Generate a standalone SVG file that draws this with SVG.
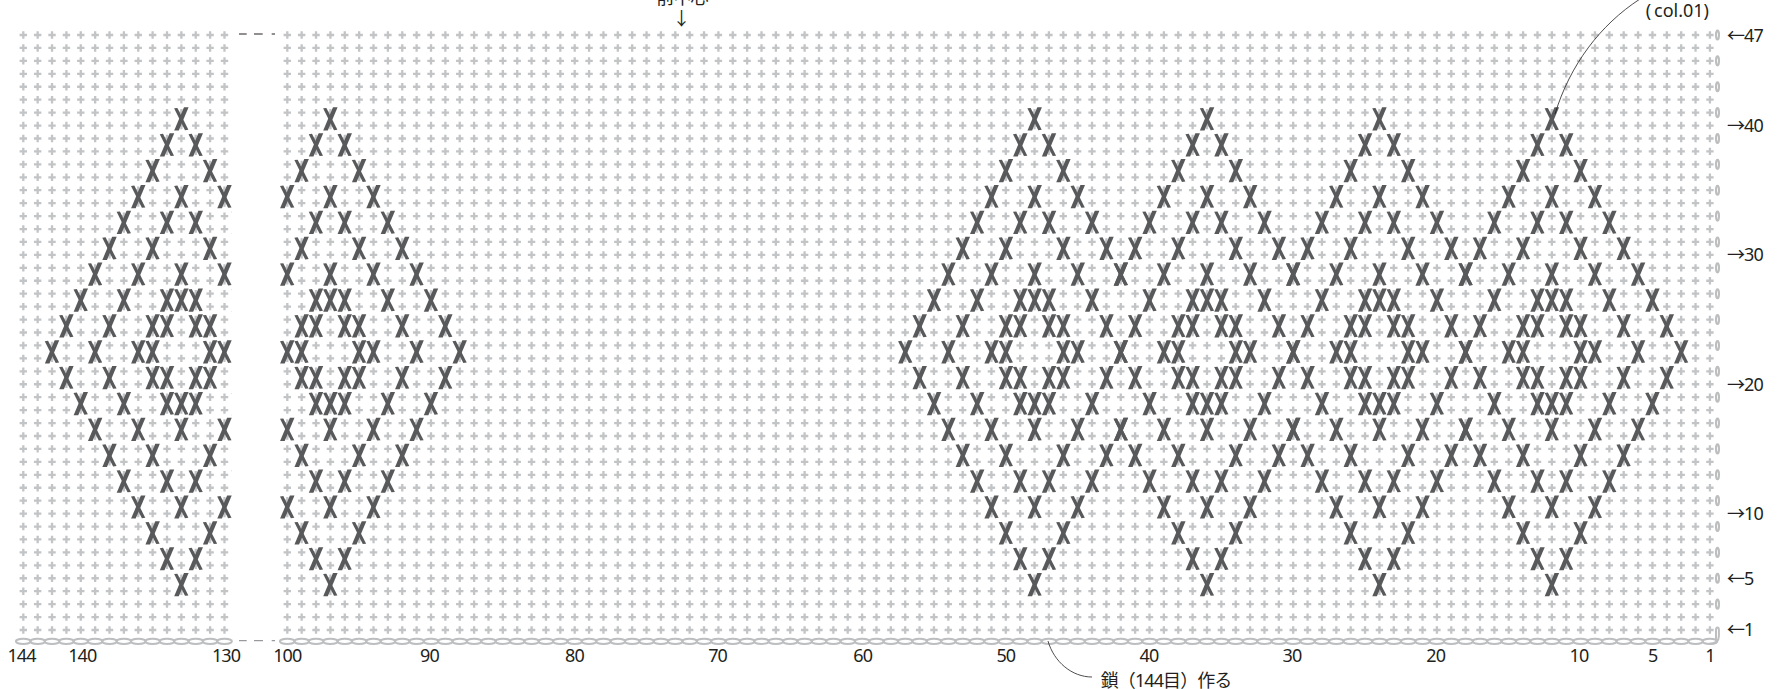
<svg xmlns="http://www.w3.org/2000/svg" width="1780" height="689" viewBox="0 0 1780 689">
<style>
.t{font-family:"Noto Sans","Noto Sans CJK JP",sans-serif;font-size:18px;fill:#231f20;letter-spacing:-.9px}
.m{text-anchor:middle}
.lead{fill:none;stroke:#231f20;stroke-width:.8}
.dash{stroke-width:1;fill:none}
.ch{fill:none;stroke:#bcbec0;stroke-width:2}
.tc{fill:#fff;stroke:#bcbec0;stroke-width:2.1}
</style>
<defs>
<path id="p" d="M-1.15-3.7h2.3v2.55h2.55v2.3h-2.55v2.55h-2.3v-2.55h-2.55v-2.3h2.55z" fill="#c2c4c6"/>
<g id="p5"><use href="#p"/><use href="#p" x="14.37"/><use href="#p" x="28.74"/><use href="#p" x="43.11"/><use href="#p" x="57.48"/></g>
<g id="p15"><use href="#p5"/><use href="#p5" x="71.85"/><use href="#p5" x="143.7"/></g>
<g id="p100"><use href="#p15"/><use href="#p15" x="215.55"/><use href="#p15" x="431.1"/><use href="#p15" x="646.65"/><use href="#p15" x="862.2"/><use href="#p15" x="1077.75"/><use href="#p5" x="1293.3"/><use href="#p5" x="1365.15"/></g>
<g id="l5"><ellipse class="ch" cx="0" cy="0" rx="7.4" ry="2.6"/><ellipse class="ch" cx="14.37" cy="0" rx="7.4" ry="2.6"/><ellipse class="ch" cx="28.74" cy="0" rx="7.4" ry="2.6"/><ellipse class="ch" cx="43.11" cy="0" rx="7.4" ry="2.6"/><ellipse class="ch" cx="57.48" cy="0" rx="7.4" ry="2.6"/></g>
<g id="l25"><use href="#l5"/><use href="#l5" x="71.85"/><use href="#l5" x="143.7"/><use href="#l5" x="215.55"/><use href="#l5" x="287.4"/></g>
<g id="x" fill="#58595b"><path d="M-7.3-10.6L-4-11L7 10.8L3.6 11.2Z"/><path d="M2.6-11.6H7.2L-2.6 11.6H-7.2Z"/></g>
<g id="d1"><use href="#x" x="-14.37"/><use href="#x" x="14.37"/></g>
<g id="d2"><use href="#x" x="-28.74"/><use href="#x" x="28.74"/></g>
<g id="d3"><use href="#x" x="-43.11"/><use href="#x" x="43.11"/></g>
<g id="d4"><use href="#x" x="-57.48"/><use href="#x" x="57.48"/></g>
<g id="d5"><use href="#x" x="-71.85"/><use href="#x" x="71.85"/></g>
<g id="d6"><use href="#x" x="-86.22"/><use href="#x" x="86.22"/></g>
<g id="r3"><use href="#d3"/><use href="#x"/></g>
<g id="r4"><use href="#d4"/><use href="#d1"/></g>
<g id="r5"><use href="#d5"/><use href="#d2"/></g>
<g id="r6"><use href="#d6"/><use href="#d3"/><use href="#x"/></g>
<g id="r7"><use href="#d4"/><use href="#d1"/><use href="#x"/></g>
<g id="r8"><use href="#d5"/><use href="#d2"/><use href="#d1"/></g>
<g id="r9"><use href="#d6"/><use href="#d3"/><use href="#d2"/></g>
<g id="motif">
<use href="#x" y="-232.83"/><use href="#d1" y="-206.96"/><use href="#d2" y="-181.09"/><use href="#r3" y="-155.22"/><use href="#r4" y="-129.35"/><use href="#r5" y="-103.48"/><use href="#r6" y="-77.61"/><use href="#r7" y="-51.74"/><use href="#r8" y="-25.87"/><use href="#r9"/>
<use href="#r8" y="25.87"/><use href="#r7" y="51.74"/><use href="#r6" y="77.61"/><use href="#r5" y="103.48"/><use href="#r4" y="129.35"/><use href="#r3" y="155.22"/><use href="#d2" y="181.09"/><use href="#d1" y="206.96"/><use href="#x" y="232.83"/>
</g>
<g id="arm-left"><use href="#x" x="-100.59" y="-51.74"/><use href="#x" x="-114.96" y="-25.87"/><use href="#x" x="-129.33"/><use href="#x" x="-114.96" y="25.87"/><use href="#x" x="-100.59" y="51.74"/></g>
<g id="arm-right"><use href="#x" x="100.59" y="-51.74"/><use href="#x" x="114.96" y="-25.87"/><use href="#x" x="129.33"/><use href="#x" x="114.96" y="25.87"/><use href="#x" x="100.59" y="51.74"/></g>
<clipPath id="cl"><rect x="0" y="0" width="231.9" height="689"/></clipPath>
<clipPath id="cr"><rect x="280" y="0" width="1500" height="689"/></clipPath>
</defs>
<rect width="1780" height="689" fill="#fff"/>
<g id="stitches-left" transform="translate(23.3 0)">
<use href="#p15" y="35"/><use href="#p15" y="47.94"/><use href="#p15" y="60.87"/><use href="#p15" y="73.81"/><use href="#p15" y="86.74"/><use href="#p15" y="99.68"/><use href="#p15" y="112.61"/><use href="#p15" y="125.55"/><use href="#p15" y="138.48"/><use href="#p15" y="151.42"/><use href="#p15" y="164.35"/><use href="#p15" y="177.29"/><use href="#p15" y="190.22"/><use href="#p15" y="203.16"/><use href="#p15" y="216.09"/><use href="#p15" y="229.03"/><use href="#p15" y="241.96"/><use href="#p15" y="254.9"/><use href="#p15" y="267.83"/><use href="#p15" y="280.77"/><use href="#p15" y="293.7"/><use href="#p15" y="306.64"/><use href="#p15" y="319.57"/><use href="#p15" y="332.51"/><use href="#p15" y="345.44"/><use href="#p15" y="358.38"/><use href="#p15" y="371.31"/><use href="#p15" y="384.25"/><use href="#p15" y="397.18"/><use href="#p15" y="410.12"/><use href="#p15" y="423.05"/><use href="#p15" y="435.99"/><use href="#p15" y="448.92"/><use href="#p15" y="461.86"/><use href="#p15" y="474.79"/><use href="#p15" y="487.73"/><use href="#p15" y="500.66"/><use href="#p15" y="513.6"/><use href="#p15" y="526.53"/><use href="#p15" y="539.47"/><use href="#p15" y="552.4"/><use href="#p15" y="565.34"/><use href="#p15" y="578.27"/><use href="#p15" y="591.21"/><use href="#p15" y="604.14"/><use href="#p15" y="617.08"/><use href="#p15" y="630.01"/>
</g>
<g id="stitches-right" transform="translate(287.3 0)">
<use href="#p100" y="35"/><use href="#p100" y="47.94"/><use href="#p100" y="60.87"/><use href="#p100" y="73.81"/><use href="#p100" y="86.74"/><use href="#p100" y="99.68"/><use href="#p100" y="112.61"/><use href="#p100" y="125.55"/><use href="#p100" y="138.48"/><use href="#p100" y="151.42"/><use href="#p100" y="164.35"/><use href="#p100" y="177.29"/><use href="#p100" y="190.22"/><use href="#p100" y="203.16"/><use href="#p100" y="216.09"/><use href="#p100" y="229.03"/><use href="#p100" y="241.96"/><use href="#p100" y="254.9"/><use href="#p100" y="267.83"/><use href="#p100" y="280.77"/><use href="#p100" y="293.7"/><use href="#p100" y="306.64"/><use href="#p100" y="319.57"/><use href="#p100" y="332.51"/><use href="#p100" y="345.44"/><use href="#p100" y="358.38"/><use href="#p100" y="371.31"/><use href="#p100" y="384.25"/><use href="#p100" y="397.18"/><use href="#p100" y="410.12"/><use href="#p100" y="423.05"/><use href="#p100" y="435.99"/><use href="#p100" y="448.92"/><use href="#p100" y="461.86"/><use href="#p100" y="474.79"/><use href="#p100" y="487.73"/><use href="#p100" y="500.66"/><use href="#p100" y="513.6"/><use href="#p100" y="526.53"/><use href="#p100" y="539.47"/><use href="#p100" y="552.4"/><use href="#p100" y="565.34"/><use href="#p100" y="578.27"/><use href="#p100" y="591.21"/><use href="#p100" y="604.14"/><use href="#p100" y="617.08"/><use href="#p100" y="630.01"/>
</g>
<g id="chain-left" transform="translate(23.3 641.3)"><use href="#l5"/><use href="#l5" x="71.85"/><use href="#l5" x="143.7"/></g>
<g id="chain-right" transform="translate(287.3 641.3)"><use href="#l25"/><use href="#l25" x="359.25"/><use href="#l25" x="718.5"/><use href="#l25" x="1077.75"/></g>
<g id="turning-chains">
<ellipse class="tc" cx="1717.5" cy="35" rx="1.5" ry="4.5"/><ellipse class="tc" cx="1717.5" cy="60.87" rx="1.5" ry="4.5"/><ellipse class="tc" cx="1717.5" cy="86.74" rx="1.5" ry="4.5"/><ellipse class="tc" cx="1717.5" cy="112.61" rx="1.5" ry="4.5"/><ellipse class="tc" cx="1717.5" cy="138.48" rx="1.5" ry="4.5"/><ellipse class="tc" cx="1717.5" cy="164.35" rx="1.5" ry="4.5"/><ellipse class="tc" cx="1717.5" cy="190.22" rx="1.5" ry="4.5"/><ellipse class="tc" cx="1717.5" cy="216.09" rx="1.5" ry="4.5"/><ellipse class="tc" cx="1717.5" cy="241.96" rx="1.5" ry="4.5"/><ellipse class="tc" cx="1717.5" cy="267.83" rx="1.5" ry="4.5"/><ellipse class="tc" cx="1717.5" cy="293.7" rx="1.5" ry="4.5"/><ellipse class="tc" cx="1717.5" cy="319.57" rx="1.5" ry="4.5"/><ellipse class="tc" cx="1717.5" cy="345.44" rx="1.5" ry="4.5"/><ellipse class="tc" cx="1717.5" cy="371.31" rx="1.5" ry="4.5"/><ellipse class="tc" cx="1717.5" cy="397.18" rx="1.5" ry="4.5"/><ellipse class="tc" cx="1717.5" cy="423.05" rx="1.5" ry="4.5"/><ellipse class="tc" cx="1717.5" cy="448.92" rx="1.5" ry="4.5"/><ellipse class="tc" cx="1717.5" cy="474.79" rx="1.5" ry="4.5"/><ellipse class="tc" cx="1717.5" cy="500.66" rx="1.5" ry="4.5"/><ellipse class="tc" cx="1717.5" cy="526.53" rx="1.5" ry="4.5"/><ellipse class="tc" cx="1717.5" cy="552.4" rx="1.5" ry="4.5"/><ellipse class="tc" cx="1717.5" cy="578.27" rx="1.5" ry="4.5"/><ellipse class="tc" cx="1717.5" cy="604.14" rx="1.5" ry="4.5"/>
<path d="M1709 643.7C1714 643.7 1718.9 642 1718.9 636V630C1718.9 626.5 1716 626.5 1716 630V641" fill="none" stroke="#bcbec0" stroke-width="2"/>
</g>
<g id="motifs">
<g clip-path="url(#cl)"><use href="#motif" x="181.4" y="351.8"/><use href="#arm-left" x="181.4" y="351.8"/></g>
<g clip-path="url(#cr)"><use href="#motif" x="330.4" y="351.8"/><use href="#arm-right" x="330.4" y="351.8"/></g>
<use href="#motif" x="1034.7" y="351.8"/><use href="#arm-left" x="1034.7" y="351.8"/>
<use href="#motif" x="1207.1" y="351.8"/>
<use href="#motif" x="1379.5" y="351.8"/>
<use href="#motif" x="1551.9" y="351.8"/><use href="#arm-right" x="1551.9" y="351.8"/>
</g>
<g id="connectors">
<path class="dash" stroke="#231f20" d="M239 34h7.7M254 34h8.7M271.7 34h3.3"/>
<path class="dash" stroke="#808285" d="M239 640.7h7.7M254 640.7h9M271.7 640.7h3.3"/>
<path class="lead" d="M1640-1C1600 25 1570 65 1555 114"/>
<path class="lead" d="M1048 641C1054 662 1072 677 1092 677"/>
</g>
<g id="labels">
<text class="t m" x="21.5" y="662">144</text>
<text class="t m" x="82.3" y="662">140</text>
<text class="t m" x="226" y="662">130</text>
<text class="t m" x="287.3" y="662">100</text>
<text class="t m" x="429.5" y="662">90</text>
<text class="t m" x="574.5" y="662">80</text>
<text class="t m" x="717.6" y="662">70</text>
<text class="t m" x="862.7" y="662">60</text>
<text class="t m" x="1005.8" y="662">50</text>
<text class="t m" x="1149" y="662">40</text>
<text class="t m" x="1292" y="662">30</text>
<text class="t m" x="1435.7" y="662">20</text>
<text class="t m" x="1579" y="662">10</text>
<text class="t m" x="1652.7" y="662">5</text>
<text class="t m" x="1710" y="662">1</text>
<text class="t" x="1727" y="41.5">←47</text>
<text class="t" x="1727" y="132">→40</text>
<text class="t" x="1727" y="261.3">→30</text>
<text class="t" x="1727" y="390.6">→20</text>
<text class="t" x="1727" y="520">→10</text>
<text class="t" x="1727" y="584.7">←5</text>
<text class="t" x="1727" y="636.4">←1</text>
<text class="t m" x="682" y="4">前中心</text>
<text class="t m" x="681" y="25">↓</text>
<text class="t" x="1645.7" y="17.3" style="letter-spacing:0" dx="0 2.9 0 0 0 0 0 0 3">(col.01)</text>
<text class="t" x="1100.7" y="687">鎖（144目）作る</text>
</g>
</svg>
